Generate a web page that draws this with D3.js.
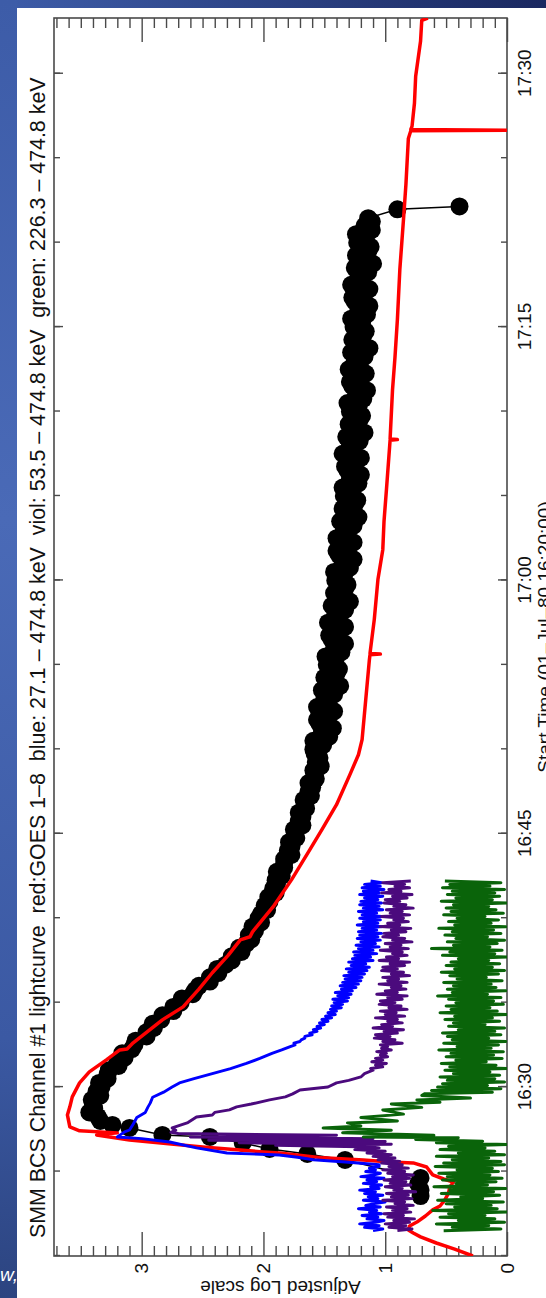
<!DOCTYPE html>
<html>
<head>
<meta charset="utf-8">
<script src="https://cdn.jsdelivr.net/npm/d3@7"></script>
<style>
  html, body { margin: 0; padding: 0; background: #fff; }
  svg { display: block; }
  text { font-family: "Liberation Sans", Arial, Helvetica, sans-serif; }
</style>
</head>
<body>
<svg id="chart" width="546" height="1298"></svg>
<script>
// all times are minutes after 16:20:00 UT (01-Jul-80), values on the adjusted log scale

// GOES 1-8 A (red)
var goesPoints = [[0,0.28],[0.41,0.43],[0.77,0.58],[1.13,0.71],[1.36,0.77],[1.54,0.81],[1.78,0.80],[2.01,0.74],[2.37,0.67],[2.73,0.61],[2.96,0.55],[3.32,0.51],[3.73,0.48],[4.09,0.47],[4.38,0.44],[4.56,0.52],[4.8,0.61],[5.27,0.66],[5.51,0.77],[5.57,0.96],[5.69,1.18],[5.81,1.51],[6.1,1.87],[6.16,2.0],[6.46,2.5],[6.87,3.1],[7.17,3.37],[7.29,3.2],[7.41,3.51],[7.64,3.59],[8.35,3.61],[8.83,3.59],[9.42,3.57],[10.25,3.51],[10.9,3.43],[11.61,3.29],[12.2,3.18],[12.26,3.12],[12.62,3.07],[13.98,2.83],[14.75,2.66],[15.8,2.53],[16.77,2.42],[17.8,2.29],[18.72,2.19],[18.9,2.11],[19.19,2.09],[20.68,1.92],[22.27,1.77],[24.05,1.62],[25.24,1.52],[26.72,1.40],[28.5,1.29],[29.68,1.22],[30.57,1.19],[32.94,1.16],[35.31,1.13],[35.6,1.125],[35.64,1.04],[35.68,1.125],[37.68,1.09],[40.05,1.06],[41.82,1.02],[43.5,1.01],[45.38,0.99],[48.3,0.96],[48.34,0.90],[48.38,0.96],[51.3,0.94],[53.2,0.92],[55.45,0.90],[58.41,0.88],[61.37,0.85],[63.45,0.83],[66.17,0.81],[66.62,0.79],[66.66,0],[66.7,0.79],[66.88,0.78],[68.25,0.76],[69.85,0.75],[71.92,0.71],[73.16,0.70],[73.3,0.65]]

// SMM BCS channel 1 (black dots)
var bcsEarly = [[3.55,0.71],[3.91,0.71],[4.27,0.73],[4.62,0.71],[5.69,1.33],[6.04,1.64],[6.34,1.95],[6.69,2.17],[7.05,2.44],[7.17,2.83],[7.58,3.10],[7.76,3.24]]
var bcsDecayStart = 8.0
var bcsDecayStep = 0.25
var bcsDecayValues = [
  3.34,3.36,3.43,3.39,3.40,3.41,3.34,3.37,3.33,3.35,3.28,3.28,3.27,3.19,3.20,3.14,3.16,3.08,3.06,3.05,
  2.96,2.96,2.90,2.91,2.84,2.83,2.74,2.74,2.68,2.67,2.58,2.56,2.53,2.44,2.44,2.37,2.38,2.31,2.26,2.26,
  2.18,2.20,2.14,2.10,2.12,2.07,2.09,2.02,2.04,2.02,1.97,1.99,1.95,1.96,1.90,1.92,1.89,
  1.90,1.85,1.89,1.83,1.83,1.83,1.77,1.80,1.77,1.79,1.73,1.74,1.75,1.68,1.71,1.68,1.71,1.65,1.66,1.67,
  1.61,1.63,1.60,1.63,1.57,1.58,1.59,1.53,1.57,1.54,1.58,
  1.59,1.51,1.59,1.46,1.52,1.43,1.54,1.56,1.46,1.42,1.56,1.47,1.50,1.42,1.52,1.37,1.47,1.50,1.40,1.38,
  1.48,1.41,1.49,1.36,1.42,1.33,1.44,1.46,1.37,1.33,1.47,1.38,1.41,1.33,1.44,1.29,1.39,1.42,1.33,1.31,
  1.41,1.34,1.42,1.29,1.35,1.26,1.38,1.40,1.30,1.26,1.40,1.31,1.34,1.26,1.37,1.22,1.32,1.35,1.25,1.23,
  1.34,1.27,1.35,1.22,1.29,1.20,1.31,1.33,1.24,1.20,1.35,1.26,1.29,1.21,1.32,1.17,1.27,1.30,1.21,1.19,
  1.29,1.22,1.31,1.18,1.24,1.15,1.27,1.29,1.20,1.16,1.30,1.21,1.25,1.17,1.28,1.13,1.24,1.27,1.18,1.16,
  1.26,1.19,1.28,1.15,1.22,1.13,1.25,1.27,1.17,1.13,1.28,1.19,1.22,1.14,1.25,1.10,1.21,1.24,1.14,1.12,
  1.23,1.16,1.24,1.11,1.17,1.11]
var bcsLate = [[61.45,1.14],[61.97,0.90],[62.14,0.39]]

// HXRBS 27.1 - 474.8 keV (blue)
var blueQuietStart = 1.5
var blueQuietValues = [1.10,1.02,1.17,1.05,1.21,1.08,1.01,1.15,1.06,1.19,1.03,1.13,1.07,1.22,1.04,1.16,1.09,1.00,1.18,1.06,1.14,1.02,1.17,1.08,1.21,1.05,1.12,1.03,1.18,1.07,1.15,1.01,1.20,1.09,1.04,1.16,1.08,1.13,1.05]
var blueFlare = [[5.4,1.05],[5.55,1.30],[5.7,1.59],[5.85,1.72],[5.98,1.87],[6.1,2.30],[6.4,2.55],[6.75,2.77],[6.95,3.00],[7.05,3.20],[7.2,3.17],[7.35,3.14],[7.46,3.10],[7.8,3.07],[8.2,3.04],[8.5,2.97],[8.8,2.95],[9.05,2.93],[9.4,2.91],[9.7,2.82],[10.0,2.75],[10.25,2.69],[10.5,2.57],[10.8,2.42],[11.1,2.27],[11.4,2.14],[11.7,2.03],[12.0,1.93],[12.2,1.85]]
var blueTailStart = 12.4
var blueTailValues = [1.78,1.74,1.75,1.70,1.69,1.66,1.66,1.60,1.62,1.56,1.59,1.53,1.56,1.50,1.54,1.47,1.52,1.44,1.49,1.41,1.47,1.40,1.45,1.36,1.44,1.35,1.42,1.31,1.43,1.30,1.39,1.28,1.41,1.27,1.36,1.24,1.37,1.22,1.35,1.20,1.33,1.19,1.34,1.17,1.30,1.15,1.32,1.13,1.28,1.16,1.30,1.10,1.27,1.12,1.25,1.07,1.26,1.10,1.22,1.05,1.24,1.08,1.20,1.04,1.23,1.06,1.21,1.03,1.22,1.07,1.19,1.02,1.23,1.06,1.18,1.04,1.21,1.03,1.19,1.07,1.22,1.02,1.18,1.05,1.21,1.03,1.20,1.06,1.17,1.02,1.21,1.05,1.18,1.01,1.19,1.04,1.17,1.03,1.12]

// HXRBS 53.5 - 474.8 keV (violet)
var violQuietStart = 1.5
var violQuietValues = [0.90,0.78,0.97,0.83,1.00,0.80,0.93,0.76,0.98,0.85,1.01,0.79,0.94,0.82,0.99,0.77,0.92,0.84,1.02,0.78,0.95,0.81,0.99,0.75,0.93,0.86,1.00,0.79,0.96,0.83,1.01,0.80,0.94,0.77,0.98,0.84,1.02,0.81,0.97,0.86,1.03,0.88,1.06,0.92,1.10,0.95,1.15,1.00,1.25,1.05]
var violFlare = [[6.45,1.10],[6.55,1.90],[6.62,0.95],[6.7,2.20],[6.78,1.00],[6.85,2.45],[6.95,1.10],[7.05,2.60],[7.15,1.40],[7.25,2.70],[7.32,2.76],[7.45,2.72],[7.58,2.75],[7.9,2.62],[8.23,2.55],[8.35,2.42],[8.5,2.40],[8.65,2.28],[8.83,2.22],[9.0,2.10],[9.24,1.95],[9.42,1.82],[9.6,1.76],[9.83,1.70],[10.01,1.47],[10.25,1.40],[10.4,1.30],[10.6,1.20],[10.8,1.17],[11.0,1.10]]
var violTailStart = 11.1
var violTailValues = [1.12,1.02,1.08,0.99,1.11,1.02,1.08,0.98,1.04,0.99,1.07,0.95,1.03,0.98,1.04,0.86,1.02,0.92,1.09,0.96,1.08,0.90,1.01,0.85,1.10,0.94,1.03,0.86,0.98,0.90,1.08,0.84,1.00,0.91,1.04,0.82,0.97,0.87,1.05,0.92,1.04,0.86,0.98,0.82,1.07,0.90,1.00,0.83,0.95,0.87,1.05,0.82,0.98,0.89,1.02,0.80,0.95,0.85,1.03,0.90,1.02,0.84,0.96,0.80,1.05,0.89,0.99,0.82,0.94,0.86,1.04,0.81,0.96,0.87,1.00,0.78,0.94,0.84,1.02,0.89,1.01,0.83,0.95,0.79,1.04,0.88,0.98,0.81,0.93,0.85,1.03,0.80,0.96,0.86,0.99,0.77,0.93,0.83,1.01,0.88,1.00,0.82,0.94,0.78,1.03,0.87,0.97,0.80,0.92,0.84,1.02,0.79]

// HXRBS 226.3 - 474.8 keV (green)
var greenQuietStart = 1.5
var greenQuietValues = [0.52,0.05,0.45,0.15,0.58,0.02,0.40,0.10,0.55,0.18,0.48,0.00,0.61,0.08,0.43,0.13,0.50,0.03,0.57,0.20,0.38,0.06,0.54,0.11,0.47,0.01,0.60,0.16,0.42,0.09,0.53,0.04,0.49,0.14,0.56,0.07,0.41,0.12,0.59,0.02,0.52,0.05,0.45,0.15,0.58,0.02,0.40,0.10,0.55,0.18,0.48,0.00]
var greenFlare = [[6.7,0.58],[6.8,0.20],[6.9,0.75],[7.0,0.40],[7.05,1.18],[7.15,0.60],[7.3,1.35],[7.45,0.95],[7.58,1.51],[7.7,1.20],[7.88,1.31],[8.0,0.90],[8.2,1.20],[8.4,0.85],[8.65,1.02],[8.8,0.70],[9.0,0.95],[9.1,0.55],[9.24,0.74],[9.35,0.30],[9.5,0.70]]
var greenTailStart = 9.6
var greenTailValues = [0.68,0.12,0.62,0.05,0.57,0.16,0.53,0.02,0.49,0.10,0.55,0.06,0.44,0.14,0.51,0.00,0.47,0.09,0.54,0.17,0.42,0.04,0.50,0.11,0.46,0.03,0.56,0.13,0.41,0.07,0.52,0.01,0.45,0.15,0.49,0.05,0.53,0.10,0.40,0.02,0.48,0.18,0.44,0.06,0.51,0.12,0.43,0.00,0.55,0.08,0.46,0.14,0.50,0.03,0.42,0.11,0.48,0.05,0.57,0.16,0.45,0.01,0.49,0.09,0.44,0.13,0.52,0.04,0.41,0.17,0.47,0.07,0.54,0.02,0.43,0.12,0.50,0.06,0.46,0.15,0.40,0.00,0.53,0.10,0.47,0.04,0.62,0.14,0.44,0.08,0.49,0.02,0.42,0.16,0.51,0.05,0.45,0.11,0.56,0.01,0.43,0.13,0.48,0.07,0.41,0.18,0.52,0.03,0.46,0.09,0.50,0.15,0.44,0.00,0.54,0.12,0.42,0.06,0.49,0.10,0.45,0.02,0.53,0.14,0.47,0.05,0.51]

var timeTicksMajor = 15   // minutes
var timeTicksMinor = 5
var valueTicks = [0, 1, 2, 3]

var titleText = "SMM BCS Channel #1 lightcurve  red:GOES 1\u20138  blue: 27.1 \u2013 474.8 keV  viol: 53.5 \u2013 474.8 keV  green: 226.3 \u2013 474.8 keV"
var xLabel = "Start Time (01\u2013Jul\u201380 16:20:00)"
var yLabel = "Adjusted Log scale"

function cadence(t0, dt, values) {
  return values.map(function (v, i) { return [t0 + i * dt, v] })
}

var bcs = bcsEarly.concat(cadence(bcsDecayStart, bcsDecayStep, bcsDecayValues), bcsLate)
var blue = cadence(blueQuietStart, 0.1, blueQuietValues).concat(blueFlare, cadence(blueTailStart, 0.1, blueTailValues))
var viol = cadence(violQuietStart, 0.1, violQuietValues).concat(violFlare, cadence(violTailStart, 0.1, violTailValues))
var green = cadence(greenQuietStart, 0.1, greenQuietValues).concat(greenFlare, cadence(greenTailStart, 0.1, greenTailValues))

var START = Date.UTC(1980, 6, 1, 16, 20, 0)
function toDate(m) { return new Date(START + m * 60000) }

var svg = d3.select("#chart")

// slide background around the plot
var defs = svg.append("defs")
var gTop = defs.append("linearGradient").attr("id", "slideTop").attr("x1", 0).attr("y1", 0).attr("x2", 1).attr("y2", 0)
gTop.append("stop").attr("offset", 0).attr("stop-color", "#3e5da9")
gTop.append("stop").attr("offset", 1).attr("stop-color", "#1a2860")
var gLeft = defs.append("linearGradient").attr("id", "slideLeft").attr("x1", 0).attr("y1", 0).attr("x2", 0).attr("y2", 1)
gLeft.append("stop").attr("offset", 0).attr("stop-color", "#3d5ca8")
gLeft.append("stop").attr("offset", 0.4).attr("stop-color", "#4a6ab7")
gLeft.append("stop").attr("offset", 0.8).attr("stop-color", "#3b59a3")
gLeft.append("stop").attr("offset", 1).attr("stop-color", "#2c4480")

svg.append("rect").attr("width", 546).attr("height", 1298).attr("fill", "#fff")
svg.append("rect").attr("x", 0).attr("y", 0).attr("width", 546).attr("height", 8).attr("fill", "url(#slideTop)")
svg.append("rect").attr("x", 0).attr("y", 0).attr("width", 17).attr("height", 1298).attr("fill", "url(#slideLeft)")
svg.append("text").attr("x", 0).attr("y", 1281)
  .attr("fill", "#fff").attr("font-size", 19).attr("font-style", "italic")
  .text("w,")

// the plot is drawn in landscape and turned a quarter turn
var W = 1238, H = 453
var plot = svg.append("g").attr("transform", "translate(54,1256) rotate(-90)")

var x = d3.scaleUtc().domain([toDate(0), toDate(73.3)]).range([0, W])
var y = d3.scaleLinear().domain([0, 3.72]).range([H, 0])

var axisColor = "#4a4a4a"

function styleAxis(g) {
  g.select(".domain").remove()
  g.selectAll(".tick line").attr("stroke", axisColor).attr("stroke-width", 1.4)
  g.selectAll(".tick text").attr("fill", "#111")
  g.attr("font-family", "'Liberation Sans', Arial, sans-serif").attr("font-size", 19)
}

// time axis (bottom of landscape plot)
plot.append("g").attr("transform", "translate(0," + H + ")")
  .call(d3.axisBottom(x).ticks(d3.utcMinute.every(timeTicksMinor)).tickFormat("").tickSizeInner(-6).tickSizeOuter(0))
  .call(styleAxis)
plot.append("g").attr("transform", "translate(0," + H + ")")
  .call(d3.axisBottom(x).ticks(d3.utcMinute.every(timeTicksMajor)).tickFormat(d3.utcFormat("%H:%M"))
    .tickSizeInner(-9).tickSizeOuter(0).tickPadding(11))
  .call(styleAxis)
plot.append("g")
  .call(d3.axisTop(x).ticks(d3.utcMinute.every(timeTicksMinor)).tickFormat("").tickSizeInner(-6).tickSizeOuter(0))
  .call(styleAxis)
plot.append("g")
  .call(d3.axisTop(x).ticks(d3.utcMinute.every(timeTicksMajor)).tickFormat("").tickSizeInner(-9).tickSizeOuter(0))
  .call(styleAxis)

// value axis
var minorValues = d3.range(1, 38).map(function (i) { return i / 10 }).filter(function (v) { return Math.abs(v - Math.round(v)) > 0.01 })
plot.append("g")
  .call(d3.axisLeft(y).tickValues(minorValues).tickFormat("").tickSizeInner(-10).tickSizeOuter(0))
  .call(styleAxis)
plot.append("g")
  .call(d3.axisLeft(y).tickValues(valueTicks).tickFormat(d3.format("d")).tickSizeInner(-24).tickSizeOuter(0).tickPadding(7))
  .call(styleAxis)
plot.append("g").attr("transform", "translate(" + W + ",0)")
  .call(d3.axisRight(y).tickValues(minorValues).tickFormat("").tickSizeInner(-10).tickSizeOuter(0))
  .call(styleAxis)
plot.append("g").attr("transform", "translate(" + W + ",0)")
  .call(d3.axisRight(y).tickValues(valueTicks).tickFormat("").tickSizeInner(-24).tickSizeOuter(0))
  .call(styleAxis)

plot.append("rect").attr("width", W).attr("height", H)
  .attr("fill", "none").attr("stroke", axisColor).attr("stroke-width", 1.6)

// labels
plot.append("text").attr("x", 18).attr("y", -9)
  .attr("font-size", 21.4).attr("fill", "#111").style("white-space", "pre")
  .text(titleText)
plot.append("text").attr("x", W / 2).attr("y", H + 44)
  .attr("text-anchor", "middle").attr("font-size", 19).attr("fill", "#111")
  .text(xLabel)
plot.append("text").attr("transform", "translate(-25," + (H / 2) + ") rotate(-90)")
  .attr("text-anchor", "middle").attr("font-size", 19).attr("fill", "#111")
  .text(yLabel)

// series
defs.append("clipPath").attr("id", "plotClip").append("rect").attr("width", W).attr("height", H)
var series = plot.append("g").attr("clip-path", "url(#plotClip)")

var line = d3.line()
  .x(function (d) { return x(toDate(d[0])) })
  .y(function (d) { return y(d[1]) })

series.append("path").datum(bcs).attr("d", line)
  .attr("fill", "none").attr("stroke", "#000").attr("stroke-width", 1.5)
series.selectAll(".bcsDot").data(bcs).enter().append("circle")
  .attr("class", "bcsDot")
  .attr("cx", function (d) { return x(toDate(d[0])) })
  .attr("cy", function (d) { return y(d[1]) })
  .attr("r", 9)
  .attr("fill", "#000")

series.append("path").datum(goesPoints).attr("d", line)
  .attr("fill", "none").attr("stroke", "#ff0000").attr("stroke-width", 3.5).attr("stroke-linejoin", "round")
series.append("path").datum(blue).attr("d", line)
  .attr("fill", "none").attr("stroke", "#0000ff").attr("stroke-width", 2.9).attr("stroke-linejoin", "round")
series.append("path").datum(viol).attr("d", line)
  .attr("fill", "none").attr("stroke", "#4b0a7d").attr("stroke-width", 2.9).attr("stroke-linejoin", "round")
series.append("path").datum(green).attr("d", line)
  .attr("fill", "none").attr("stroke", "#0a640a").attr("stroke-width", 3).attr("stroke-linejoin", "round")
</script>
</body>
</html>
